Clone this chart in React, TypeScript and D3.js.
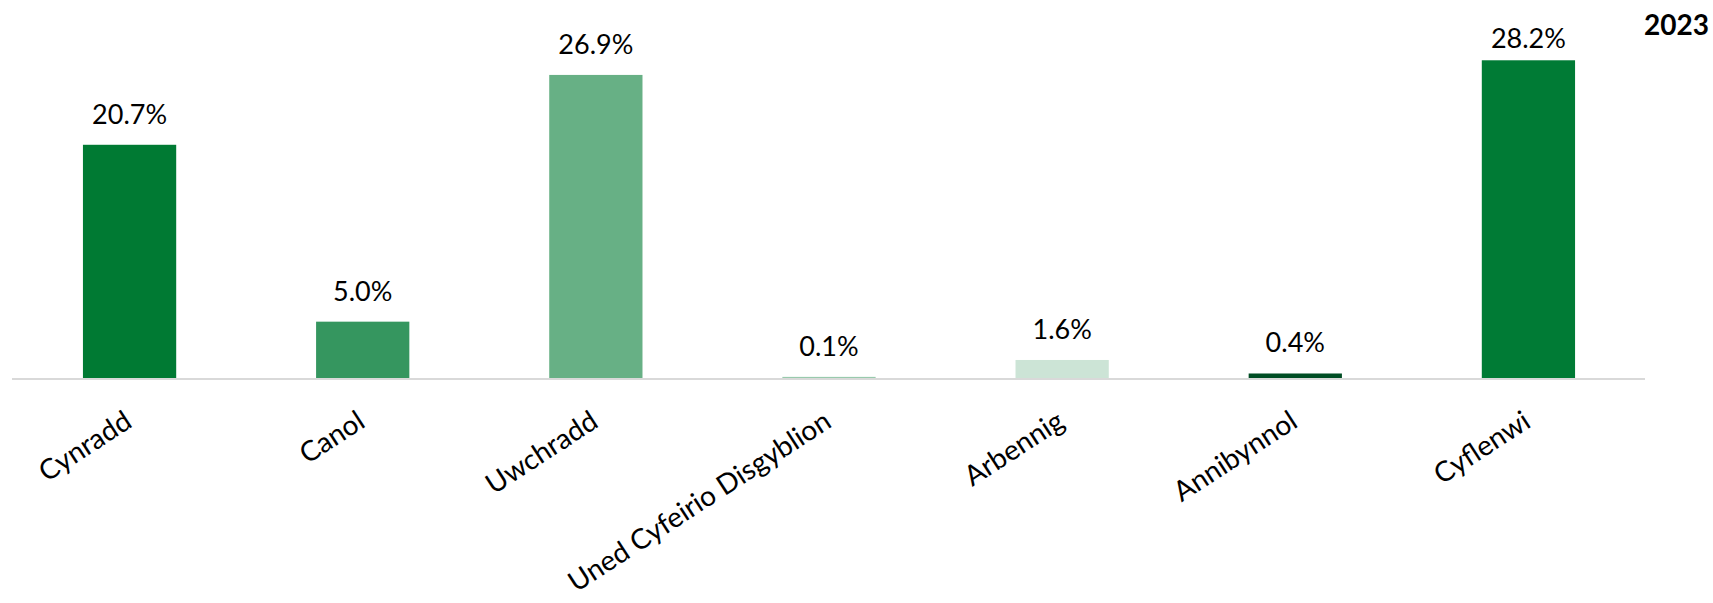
import * as d3 from "d3";
import React, {useRef, useEffect} from "react";

const categories = ["Cynradd", "Canol", "Uwchradd", "Uned Cyfeirio Disgyblion", "Arbennig", "Annibynnol", "Cyflenwi"];
const values = [20.7, 5.0, 26.9, 0.1, 1.6, 0.4, 28.2];
const barColors = ["#007A33", "#35965F", "#67B085", "#99CAAD", "#CCE4D6", "#004D24", "#007B35"];
const yearLabel = "2023";

const WIDTH = 1713;
const HEIGHT = 603;
const FONT = "Lato, 'Open Sans', sans-serif";

function BarChart() {

    const ref = useRef<HTMLDivElement>(null);

    useEffect(() => {

        const container = d3.select(ref.current);
        container.selectAll("*").remove();

        const svg = container.append("svg")
            .attr("width", WIDTH)
            .attr("height", HEIGHT)
            .attr("viewBox", `0 0 ${WIDTH} ${HEIGHT}`)
            .style("position", "absolute")
            .style("left", "0px")
            .style("top", "0px")
            .style("font-family", FONT);

        const data = categories.map((c, i) => ({category: c, value: values[i], color: barColors[i]}));

        const x = d3.scaleBand()
            .domain(categories)
            .range([13, 1645])
            .paddingInner(0.6)
            .paddingOuter(0.3);

        const y = d3.scaleLinear()
            .domain([0, 30])
            .range([378, 40]);

        // bars
        svg.append("g")
            .selectAll("rect")
            .data(data)
            .enter()
            .append("rect")
            .attr("x", d => x(d.category)!)
            .attr("y", d => y(d.value))
            .attr("width", x.bandwidth())
            .attr("height", d => y(0) - y(d.value))
            .attr("fill", d => d.color);

        // baseline axis
        svg.append("line")
            .attr("x1", x.range()[0] - 1)
            .attr("x2", x.range()[1])
            .attr("y1", y(0) + 1)
            .attr("y2", y(0) + 1)
            .attr("stroke", "#D9D9D9")
            .attr("stroke-width", 2);

        // value labels (Excel keeps the tallest one inside the plot area)
        svg.append("g")
            .selectAll("text")
            .data(data)
            .enter()
            .append("text")
            .attr("x", d => x(d.category)! + x.bandwidth() / 2)
            .attr("y", d => Math.max(y(d.value) - 21, 48))
            .attr("text-anchor", "middle")
            .attr("font-size", 27)
            .attr("fill", "#000")
            .text(d => d.value.toFixed(1) + "%");

        // category labels, rotated
        svg.append("g")
            .selectAll("text")
            .data(data)
            .enter()
            .append("text")
            .attr("transform", d => `translate(${x(d.category)! + x.bandwidth() / 2 + 4}, ${y(0) + 48}) rotate(-33)`)
            .attr("text-anchor", "end")
            .attr("font-size", 28)
            .attr("fill", "#000")
            .text(d => d.category);

        // year title
        svg.append("text")
            .attr("x", 1709)
            .attr("y", 35)
            .attr("text-anchor", "end")
            .attr("font-size", 28)
            .attr("font-weight", "bold")
            .attr("fill", "#000")
            .text(yearLabel);

    }, []);

    return (
        <div className="Bar-Chart" ref={ref}/>
    );
}

export default function App() {
    return <BarChart/>;
}
